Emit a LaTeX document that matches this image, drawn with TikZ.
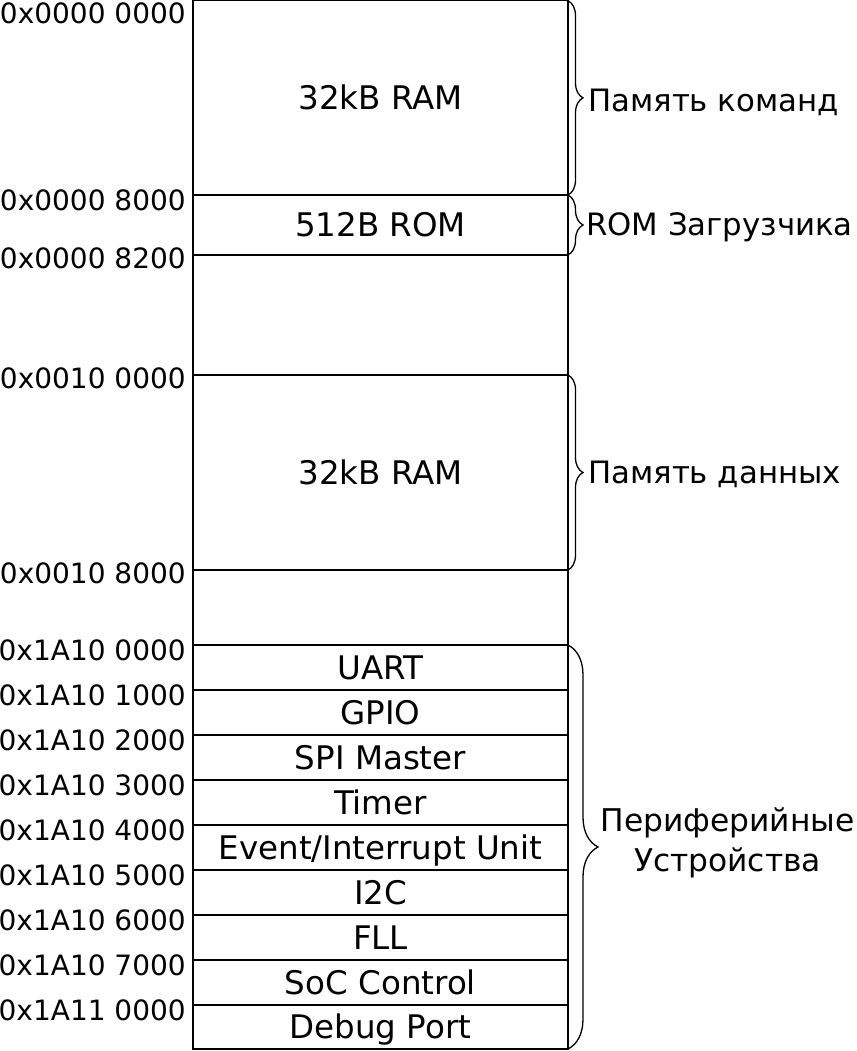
\documentclass[tikz,border=0pt]{standalone}
\usepackage{fontspec}
\setmainfont{DejaVu Sans}
\usetikzlibrary{decorations.pathreplacing}
\begin{document}
\begin{tikzpicture}[x=1pt,y=-1pt,
  rule/.style={line width=1.5pt},
  addr/.style={anchor=east, inner sep=0pt, font=\fontsize{28}{33}\selectfont},
  cell/.style={anchor=base, inner sep=0pt, font=\fontsize{32.5}{38}\selectfont},
  brc/.style={decorate, decoration={brace, amplitude=#1}, line width=1.3pt},
  side/.style={anchor=base west, inner sep=0pt, font=\fontsize{30.8}{40}\selectfont}]
\useasboundingbox (0,0) rectangle (856,1051);
% box outline
\coordinate (tl) at (193,0.75);
\coordinate (br) at (568,1049);
\draw[rule] (tl) rectangle (br);
% horizontal boundaries
\foreach \yy/\nm in {195/b1,255/b2,375/b3,570/b4,645/b5,690/b6,735/b7,780/b8,825/b9,870/b10,915/b11,960/b12,1005/b13}{
  \coordinate (\nm L) at (193,\yy);
  \coordinate (\nm R) at (568,\yy);
  \draw[rule] (\nm L) -- (\nm R);
}
\coordinate (b0R) at (568,0.75);
\coordinate (b14R) at (568,1049);
% address labels
\node[addr] (a0) at (186,13.5) {0x0000 0000};
\node[addr] (a1) at (186,200) {0x0000 8000};
\node[addr] (a2) at (186,258) {0x0000 8200};
\node[addr] (a3) at (186,378) {0x0010 0000};
\node[addr] (a4) at (186,573) {0x0010 8000};
\node[addr] (a5) at (186,650) {0x1A10 0000};
\node[addr] (a6) at (186,695) {0x1A10 1000};
\node[addr] (a7) at (186,740) {0x1A10 2000};
\node[addr] (a8) at (186,785) {0x1A10 3000};
\node[addr] (a9) at (186,830) {0x1A10 4000};
\node[addr] (a10) at (186,875) {0x1A10 5000};
\node[addr] (a11) at (186,920) {0x1A10 6000};
\node[addr] (a12) at (186,965) {0x1A10 7000};
\node[addr] (a13) at (186,1010) {0x1A11 0000};
% cell labels (base = centre + half cap height)
\node[cell] (c1) at (380.5,98+11.8) {32kB RAM};
\node[cell] (c2) at (380.5,225+11.8) {512B ROM};
\node[cell] (c3) at (380.5,472.5+11.8) {32kB RAM};
\node[cell] (p1) at (380.5,667.5+11.8) {UART};
\node[cell] (p2) at (380.5,712.5+11.8) {GPIO};
\node[cell] (p3) at (380.5,757.5+11.8) {SPI Master};
\node[cell] (p4) at (380.5,802.5+11.8) {Timer};
\node[cell] (p5) at (380.5,847.5+11.8) {Event/Interrupt Unit};
\node[cell] (p6) at (380.5,892.5+11.8) {I2C};
\node[cell] (p7) at (380.5,937.5+11.8) {FLL};
\node[cell] (p8) at (380.5,982.5+11.8) {SoC Control};
\node[cell] (p9) at (380.5,1027+11.8) {Debug Port};
% braces
\draw[brc=15] (b0R) -- (b1R);
\draw[brc=15] (b1R) -- (b2R);
\draw[brc=15] (b3R) -- (b4R);
\draw[brc=30] (b5R) -- (b14R);
% side labels
\node[side] (s1) at (588,100+11.2) {Память команд};
\node[side] (s2) at (586,224+11.2) {ROM Загрузчика};
\node[side] (s3) at (588,472+11.2) {Память данных};
\node[anchor=base, inner sep=0pt, align=center, font=\fontsize{31.3}{40}\selectfont] (s4) at (727.5,860+11.4) {Периферийные\\Устройства};
\end{tikzpicture}
\end{document}
